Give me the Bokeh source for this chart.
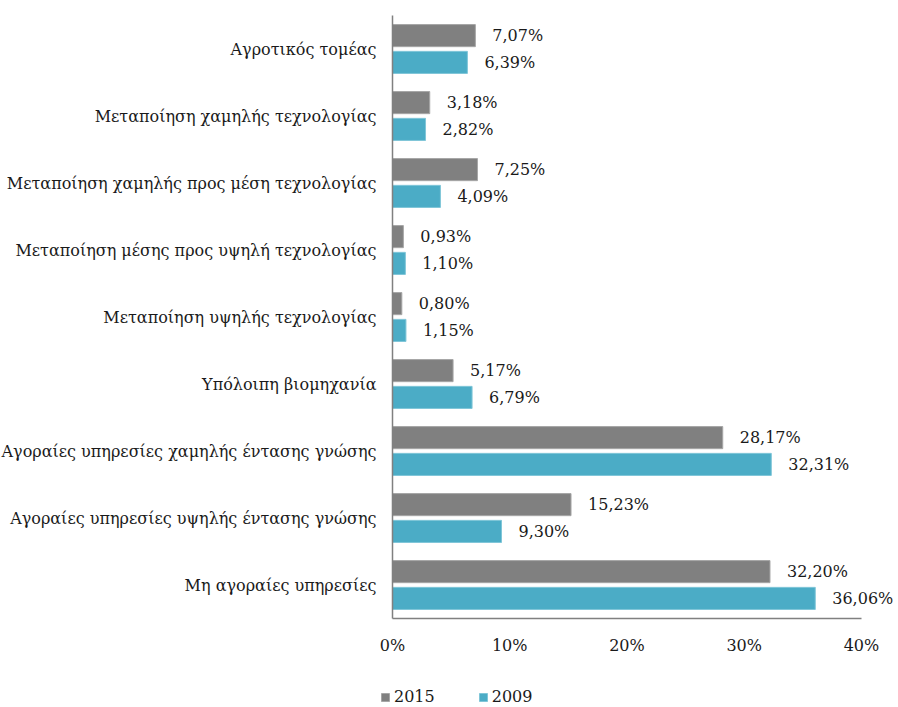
from bokeh.plotting import figure
from bokeh.models import (ColumnDataSource, Range1d, FixedTicker,
                          PrintfTickFormatter, Legend, LegendItem)
from bokeh.transform import dodge
from bokeh.core.properties import value
from bokeh.embed import file_html
from bokeh.resources import INLINE

categories = [
    "Αγροτικός τομέας",
    "Μεταποίηση χαμηλής τεχνολογίας",
    "Μεταποίηση χαμηλής προς μέση τεχνολογίας",
    "Μεταποίηση μέσης προς υψηλή τεχνολογίας",
    "Μεταποίηση υψηλής τεχνολογίας",
    "Υπόλοιπη βιομηχανία",
    "Αγοραίες υπηρεσίες χαμηλής έντασης γνώσης",
    "Αγοραίες υπηρεσίες υψηλής έντασης γνώσης",
    "Μη αγοραίες υπηρεσίες",
]
values_2015 = [7.07, 3.18, 7.25, 0.93, 0.80, 5.17, 28.17, 15.23, 32.20]
values_2009 = [6.39, 2.82, 4.09, 1.10, 1.15, 6.79, 32.31, 9.30, 36.06]
x_ticks = [0, 10, 20, 30, 40]
series_names = ["2015", "2009"]

FONT = "DejaVu Serif"
FS = "16px"
GRAY = "#808080"
TEAL = "#4BACC6"
TXT = "#1a1a1a"

n = len(categories)
ypos = [n - 1 - i for i in range(n)]  # first category on top


def fmt(v):
    return f"{v:.2f}".replace(".", ",") + "%"


source = ColumnDataSource(data=dict(
    y=ypos,
    v2015=values_2015,
    v2009=values_2009,
    l2015=[fmt(v) for v in values_2015],
    l2009=[fmt(v) for v in values_2009],
))

p = figure(
    width=898, height=707,
    x_range=Range1d(-33.43, 43.16),
    y_range=Range1d(-1.828, 8.724),
    output_backend="svg", toolbar_location=None,
    min_border_left=0, min_border_right=0,
    min_border_top=0, min_border_bottom=0,
)

r1 = p.hbar(y=dodge("y", 0.2), right="v2015", height=0.33, left=0, source=source,
            fill_color=GRAY, line_color="#a6a6a6", line_width=1)
r2 = p.hbar(y=dodge("y", -0.2), right="v2009", height=0.33, left=0, source=source,
            fill_color=TEAL, line_color="#80c6d8", line_width=1)

p.text(x="v2015", y=dodge("y", 0.2), text="l2015", source=source,
       x_offset=17, text_baseline="middle", text_align="left",
       text_font=value(FONT), text_font_size=FS, text_color=TXT)
p.text(x="v2009", y=dodge("y", -0.2), text="l2009", source=source,
       x_offset=17, text_baseline="middle", text_align="left",
       text_font=value(FONT), text_font_size=FS, text_color=TXT)

# x axis (drawn at the bottom of the category area)
p.xaxis.fixed_location = -0.5
p.xaxis.ticker = FixedTicker(ticks=x_ticks)
p.xaxis.formatter = PrintfTickFormatter(format="%d%%")
p.xaxis.bounds = (0, 40)
p.xaxis.axis_line_color = GRAY
p.xaxis.axis_line_width = 1.5
p.xaxis.major_tick_line_color = None
p.xaxis.major_tick_out = 0
p.xaxis.major_tick_in = 0
p.xaxis.minor_tick_line_color = None
p.xaxis.major_label_text_font = FONT
p.xaxis.major_label_text_font_size = FS
p.xaxis.major_label_text_color = TXT
p.xaxis.major_label_standoff = 17

# y axis with category names
p.yaxis.fixed_location = 0
p.yaxis.ticker = FixedTicker(ticks=ypos)
p.yaxis.major_label_overrides = {yv: c for yv, c in zip(ypos, categories)}
p.yaxis.bounds = (-0.5, n - 0.5)
p.yaxis.axis_line_color = GRAY
p.yaxis.axis_line_width = 1.5
p.yaxis.major_tick_line_color = None
p.yaxis.major_tick_out = 0
p.yaxis.major_tick_in = 0
p.yaxis.minor_tick_line_color = None
p.yaxis.major_label_text_font = FONT
p.yaxis.major_label_text_font_size = FS
p.yaxis.major_label_text_color = TXT
p.yaxis.major_label_standoff = 16

p.xgrid.grid_line_color = None
p.ygrid.grid_line_color = None
p.outline_line_color = None

legend = Legend(
    items=[LegendItem(label=series_names[0], renderers=[r1]),
           LegendItem(label=series_names[1], renderers=[r2])],
    orientation="horizontal",
    location=(380, 1),
    glyph_width=10, glyph_height=10,
    label_standoff=4, spacing=43,
    padding=0, margin=0,
    label_height=16,
    border_line_color=None, background_fill_alpha=0,
    label_text_font=FONT, label_text_font_size=FS, label_text_color=TXT,
)
p.add_layout(legend, "center")

open("out.html", "w").write(file_html(p, INLINE))
